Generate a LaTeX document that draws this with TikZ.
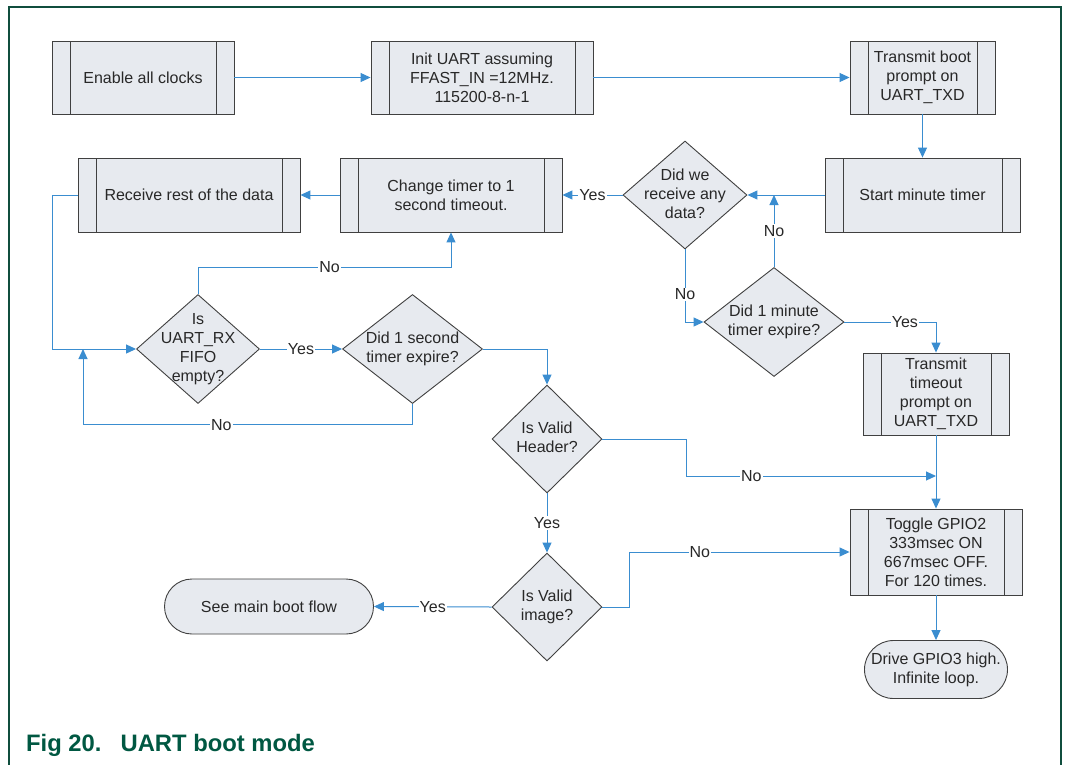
\documentclass[tikz,border=0pt]{standalone}
\usepackage{fontspec}
\setmainfont{Liberation Sans}
\usetikzlibrary{shapes.geometric,arrows.meta,calc}
\definecolor{boxfill}{RGB}{231,234,239}
\definecolor{boxline}{RGB}{64,64,64}
\definecolor{txt}{RGB}{40,40,40}
\definecolor{linkblue}{RGB}{58,141,208}
\definecolor{framegreen}{RGB}{16,78,62}
\definecolor{capgreen}{RGB}{0,88,66}
\newcommand{\dtext}[1]{\makebox[0pt]{\raisebox{-5pt}[0pt][0pt]{\begin{tabular}{@{}c@{}}#1\end{tabular}}}}
\begin{document}
\begin{tikzpicture}[x=1pt,y=-1pt,
  every node/.style={font=\fontsize{16}{19}\selectfont, text=txt},
  base/.style={draw=boxline, fill=boxfill, line width=0.9pt, inner sep=0pt},
  subproc/.style={base, rectangle, align=center, path picture={
     \draw[boxline, line width=0.9pt] ([xshift=18pt]path picture bounding box.north west) -- ([xshift=18pt]path picture bounding box.south west);
     \draw[boxline, line width=0.9pt] ([xshift=-18pt]path picture bounding box.north east) -- ([xshift=-18pt]path picture bounding box.south east);}},
  decision/.style={base, diamond},
  terminal/.style={base, rectangle, rounded corners=27.5pt, align=center},
  flow/.style={draw=linkblue, line width=1pt, -{Triangle[length=10pt,width=9pt]}},
  lbl/.style={fill=white, inner sep=1pt},
]
\useasboundingbox (0,0) rectangle (1066,764);
\fill[white] (0,0) rectangle (1066,764);
\draw[framegreen, line width=2pt] (9,770) -- (9,7) -- (1061,7) -- (1061,770);

\node[subproc, minimum width=182pt, minimum height=73pt] (enable) at (143,77.5) {Enable all clocks};
\node[subproc, minimum width=222pt, minimum height=73pt] (init) at (482,77.5) {Init UART assuming\\FFAST\_IN =12MHz.\\115200-8-n-1};
\node[subproc, minimum width=145pt, minimum height=73pt] (tboot) at (922.5,77.5) {Transmit boot\\prompt on\\UART\_TXD};
\node[subproc, minimum width=195pt, minimum height=74pt] (start) at (922.5,195) {Start minute timer};
\node[decision, minimum width=124pt, minimum height=108pt] (q1) at (685,195) {\dtext{Did we\\receive any\\data?}};
\node[subproc, minimum width=222pt, minimum height=74pt] (change) at (451,195) {Change timer to 1\\second timeout.};
\node[subproc, minimum width=222pt, minimum height=74pt] (recv) at (189,195) {Receive rest of the data};
\node[decision, minimum width=140pt, minimum height=109pt] (q2) at (774,322) {\dtext{Did 1 minute\\timer expire?}};
\node[subproc, minimum width=146pt, minimum height=82pt] (ttime) at (936,394) {Transmit\\timeout\\prompt on\\UART\_TXD};
\node[decision, minimum width=123pt, minimum height=109pt] (q3) at (198,349) {\dtext{Is\\UART\_RX\\FIFO\\empty?}};
\node[decision, minimum width=140pt, minimum height=109pt] (q4) at (412.5,349) {\dtext{Did 1 second\\timer expire?}};
\node[decision, minimum width=110pt, minimum height=108pt] (q5) at (547,439) {\dtext{Is Valid\\Header?}};
\node[decision, minimum width=110pt, minimum height=108pt] (q6) at (547,607) {\dtext{Is Valid\\image?}};
\node[terminal, minimum width=209pt, minimum height=55pt] (seemain) at (269,606.5) {See main boot flow};
\node[subproc, minimum width=172pt, minimum height=86pt] (toggle) at (936,552) {Toggle GPIO2\\333msec ON\\667msec OFF.\\For 120 times.};
\node[terminal, rounded corners=29pt, minimum width=143pt, minimum height=58pt] (drive) at (936,669.5) {Drive GPIO3 high.\\Infinite loop.};

\draw[flow] (enable.east) -- (init.west);
\draw[flow] (init.east) -- (tboot.west);
\draw[flow] (tboot.south) -- (start.north);
\draw[flow] (start.west) -- (q1.east);
\draw[flow] (q2.north) -- node[lbl]{No} (q2.north |- q1.east);
\draw[flow] (q1.south) |- node[lbl,pos=0.31]{No} (q2.west);
\draw[flow] (q1.west) -- node[lbl]{Yes} (change.east);
\draw[flow] (change.west) -- (recv.east);
\coordinate (lx) at (52,349);
\draw[flow] (recv.west) -| (lx) -- (q3.west);
\draw[flow] (q3.north) -- ++(0,-27) -| node[lbl,pos=0.26]{No} (change.south);
\draw[flow] (q3.east) -- node[lbl]{Yes} (q4.west);
\coordinate (j1) at (83,349);
\draw[flow] (q4.south) -- ++(0,21) -| node[lbl,pos=0.29]{No} (j1);
\draw[flow] (q4.east) -| (q5.north);
\coordinate (j2) at (936,476);
\draw[flow] (q5.east) -- ++(84,0) |- node[lbl,pos=0.63]{No} (j2);
\draw[flow] (ttime.south) -- (toggle.north);
\draw[flow] (q2.east) -| node[lbl,pos=0.33]{Yes} (ttime.north);
\draw[flow] (q5.south) -- node[lbl]{Yes} (q6.north);
\draw[flow] (q6.east) -- ++(27,0) |- node[lbl,pos=0.66]{No} (toggle.west);
\draw[flow] (q6.west) -- node[lbl]{Yes} (seemain.east);
\draw[flow] (toggle.south) -- (drive.north);

\node[anchor=base west, inner sep=0pt, font=\fontsize{23.8}{28}\selectfont\bfseries, text=capgreen] (cap) at (26,751) {Fig 20.\hspace{19pt}UART boot mode};
\end{tikzpicture}
\end{document}
